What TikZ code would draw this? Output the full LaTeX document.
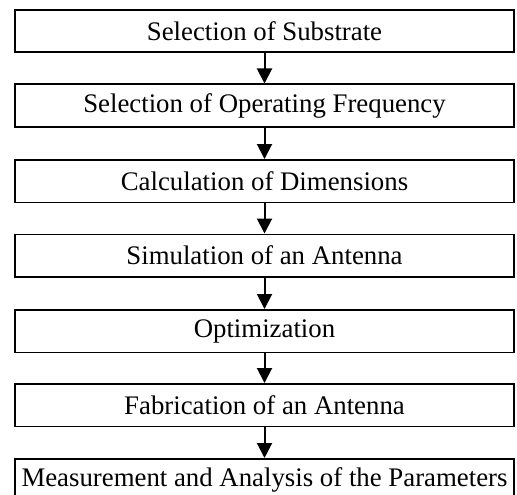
\documentclass[tikz,border=0pt]{standalone}
\usepackage{fontspec}
\setmainfont{Liberation Serif}
\usetikzlibrary{arrows.meta}
\begin{document}
\begin{tikzpicture}[x=1pt,y=1pt,
  stepbox/.style={draw,line width=1.8pt,minimum width=499pt,minimum height=42.5pt,inner sep=0pt,font=\fontsize{26.8}{30}\selectfont,anchor=north},
  conn/.style={line width=2pt,-{Triangle[length=15pt,width=15pt]}}]
\useasboundingbox (0,0) rectangle (517,-495);
\clip (0,0) rectangle (517,-495);
\node[stepbox] (b1) at (264.5,-9) {Selection of Substrate};
\node[stepbox] (b2) at (264.5,-83.5) {Selection of Operating Frequency};
\node[stepbox] (b3) at (264.5,-159) {Calculation of Dimensions};
\node[stepbox] (b4) at (264.5,-233.5) {Simulation of an Antenna};
\node[stepbox] (b5) at (264.5,-309) {Optimization};
\node[stepbox] (b6) at (264.5,-383) {Fabrication of an Antenna};
\node[stepbox] (b7) at (264.5,-458) {Measurement and Analysis of the Parameters};
\foreach \a/\b in {b1/b2,b2/b3,b3/b4,b4/b5,b5/b6,b6/b7}
  \draw[conn] (\a.south) -- (\b.north);
\end{tikzpicture}
\end{document}
